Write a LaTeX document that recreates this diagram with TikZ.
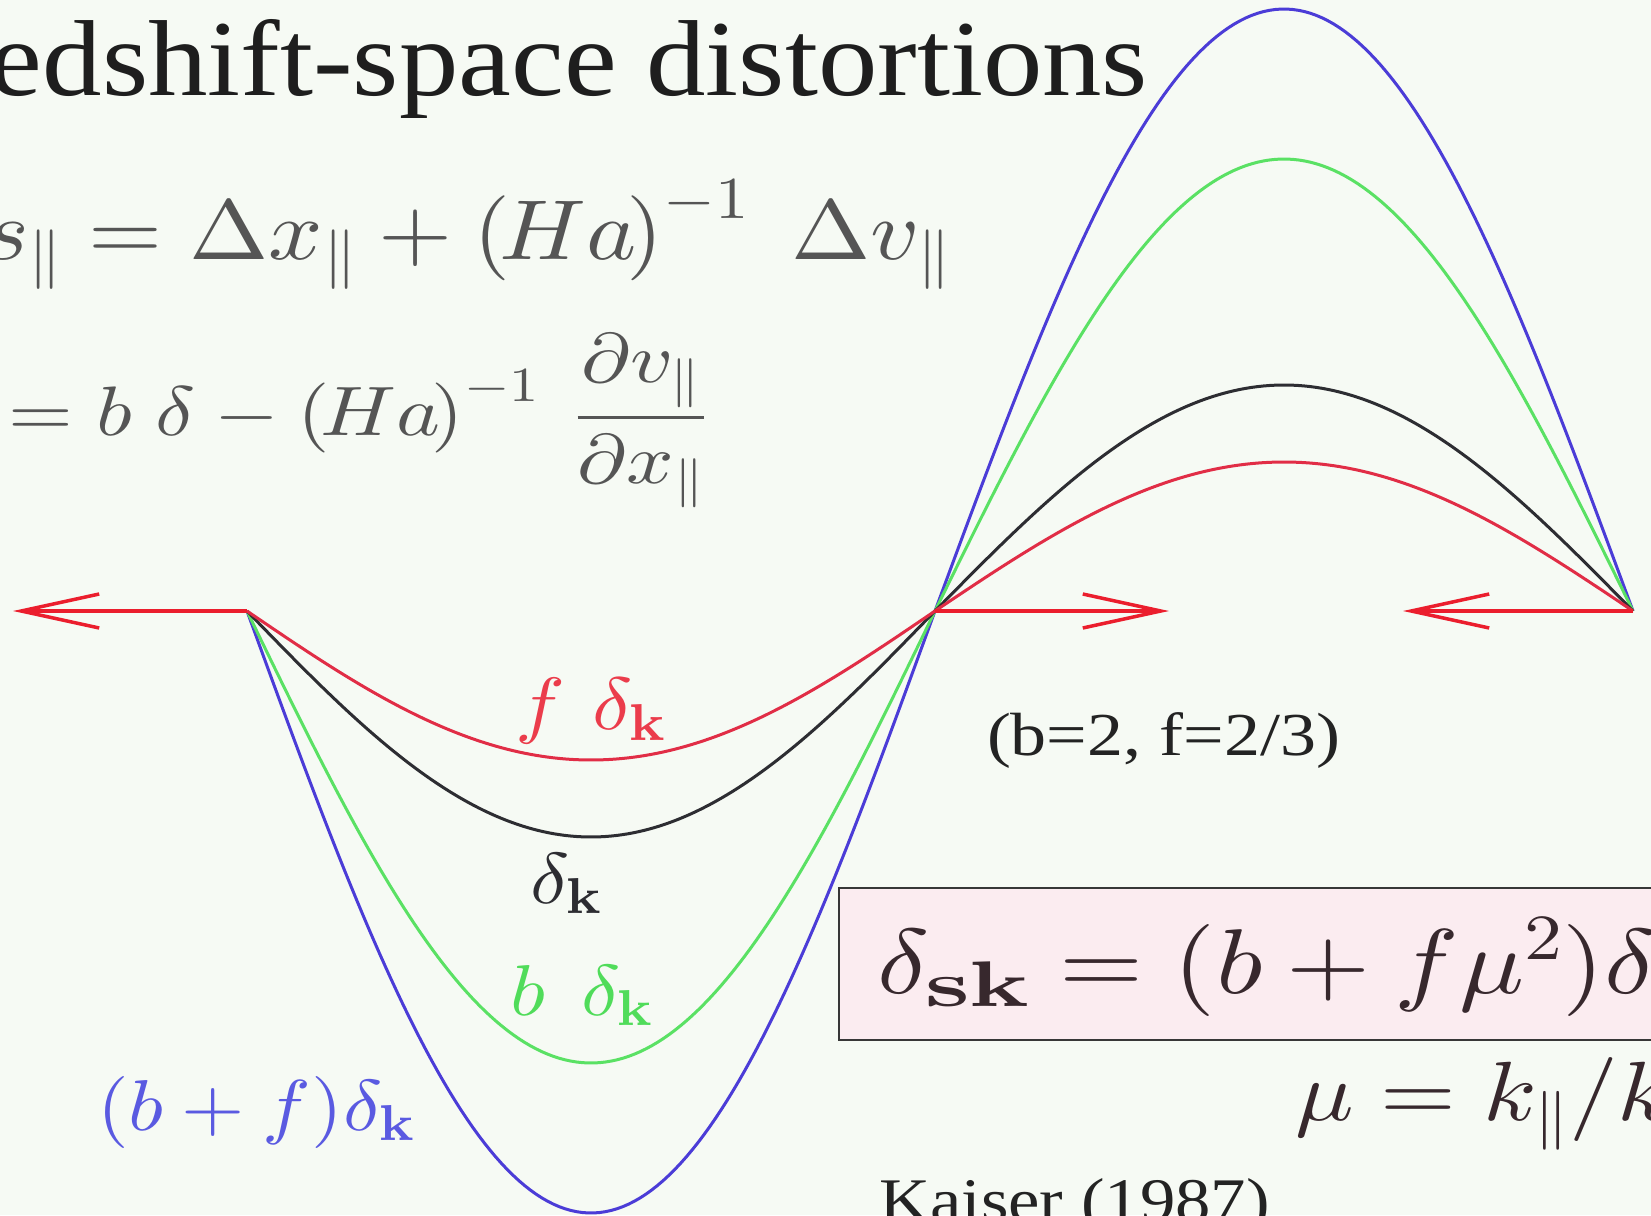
\documentclass[tikz,border=0pt]{standalone}
\usepackage{graphicx}
\usepackage[no-math]{fontspec}
\newfontfamily\timesf{Liberation Serif}
\DeclareFontShape{OML}{cmm}{m}{it}{<-> cmmi10}{}
\DeclareFontShape{OML}{cmm}{b}{it}{<-> cmmib10}{}
\DeclareFontShape{OMS}{cmsy}{m}{n}{<-> cmsy10}{}
\DeclareFontShape{OMS}{cmsy}{b}{n}{<-> cmbsy10}{}
\DeclareFontShape{OT1}{cmr}{m}{n}{<-> cmr10}{}
\DeclareFontShape{OT1}{cmr}{bx}{n}{<-> cmbx10}{}
\DeclareFontShape{OMX}{cmex}{m}{n}{<-> cmex10}{}
\usetikzlibrary{arrows.meta}
\definecolor{bgc}{RGB}{246,250,244}
\definecolor{redc}{RGB}{225,45,70}
\definecolor{greenc}{RGB}{90,225,100}
\definecolor{bluec}{RGB}{75,60,215}
\definecolor{blackc}{RGB}{45,45,50}
\definecolor{arrred}{RGB}{235,30,45}
\definecolor{eqgray}{RGB}{85,85,85}
\definecolor{boxfill}{RGB}{251,236,240}
\definecolor{boxdraw}{RGB}{55,55,55}
\definecolor{boxtext}{RGB}{55,40,45}
\definecolor{lblred}{RGB}{235,60,75}
\definecolor{lblgreen}{RGB}{80,220,90}
\definecolor{lblblue}{RGB}{90,90,225}
\newcommand{\hsc}[2]{\scalebox{#1}[1]{#2}}
\tikzset{
  txt/.style={anchor=base west, inner sep=0pt, outer sep=0pt},
  curve/.style={line width=3pt, line join=round},
  arr/.style={line width=3.5pt, arrred, -{Straight Barb[length=78pt,width=34pt,line width=3.5pt]}},
}
\begin{document}
\begin{tikzpicture}[x=1pt,y=-1pt]
\useasboundingbox (0,0) rectangle (1651,1215);
\clip (0,0) rectangle (1651,1215);
\fill[bgc] (0,0) rectangle (1651,1215);
% title
\node[txt, font=\fontsize{108}{124}\selectfont\timesf, text={rgb,255:red,30;green,30;blue,30}] (title) at (-10,95) {\hsc{1.10}{edshift-space distortions}};
% equations
\node[txt, font=\fontsize{85}{100}\selectfont, text=eqgray] (eq1) at (-16,259) {\hsc{1.12}{$s_{\parallel} = \Delta x_{\parallel} + \left(\mkern-2mu Ha\mkern-2mu\right)^{-1}\;\Delta v_{\parallel}$}};
\node[txt, font=\fontsize{70}{84}\selectfont, text=eqgray] (eq2) at (9,435) {\hsc{1.19}{$\displaystyle = b\;\delta - \left(\mkern-2mu Ha\mkern-2mu\right)^{-1}\;\frac{\partial v_{\parallel}}{\partial x_{\parallel}}$}};
% box
\filldraw[fill=boxfill, draw=boxdraw, line width=2.5pt] (839,888) rectangle (1670,1040);
\node[txt, font=\fontsize{92}{110}\selectfont, text=boxtext] (kaiser) at (877,993) {\hsc{1.175}{$\delta_{\hsc{1.3}{$\scriptstyle\mathbf{sk}$}} = (b + f\mu^2)\delta$}};
\node[txt, font=\fontsize{84}{100}\selectfont, text=boxtext] (mu) at (1295,1120) {\hsc{1.16}{$\mu = k_{\parallel}/k$}};
\node[txt, font=\fontsize{61}{72}\selectfont\timesf, text={rgb,255:red,35;green,35;blue,35}] (params) at (987,755) {\hsc{1.18}{(b=2, f=2/3)}};
\node[txt, font=\fontsize{62}{72}\selectfont\timesf, text={rgb,255:red,35;green,35;blue,35}] (ref) at (879,1221) {\hsc{1.14}{Kaiser (1987)}};
% nodes on baseline
\coordinate (L) at (247,611);
\coordinate (M) at (935,611);
\coordinate (R) at (1633,611);
\coordinate (Ltip) at (13,611);
\coordinate (Mtip) at (1169,611);
\coordinate (Rtip) at (1403,611);
% curves
\foreach \A/\c in {602/bluec, 452/greenc, 226/blackc, 149/redc}{
  \draw[curve, \c] plot[domain=0:180, samples=120] ({247+\x*3.8222},{611+\A*sin(\x)})
                   -- plot[domain=0:180, samples=120] ({935+\x*3.8778},{611-\A*sin(\x)});
}
% arrows
\draw[arr] (L) -- (Ltip);
\draw[arr] (M) -- (Mtip);
\draw[arr] (R) -- (Rtip);
% labels
\node[txt, font=\fontsize{74}{88}\selectfont, text=lblred] (lf) at (515,729) {\hsc{1.13}{$f\;\mkern1mu\delta_{\mathbf{k}}$}};
\node[txt, font=\fontsize{72}{86}\selectfont, text=blackc] (lk) at (530,903) {\hsc{1.13}{$\delta_{\mathbf{k}}$}};
\node[txt, font=\fontsize{72}{86}\selectfont, text=lblgreen] (lb) at (510,1015) {\hsc{1.13}{$b\;\,\delta_{\mathbf{k}}$}};
\node[txt, font=\fontsize{72}{86}\selectfont, text=lblblue] (lbf) at (97,1130) {\hsc{1.13}{$(b+f)\delta_{\mathbf{k}}$}};
\end{tikzpicture}
\end{document}
